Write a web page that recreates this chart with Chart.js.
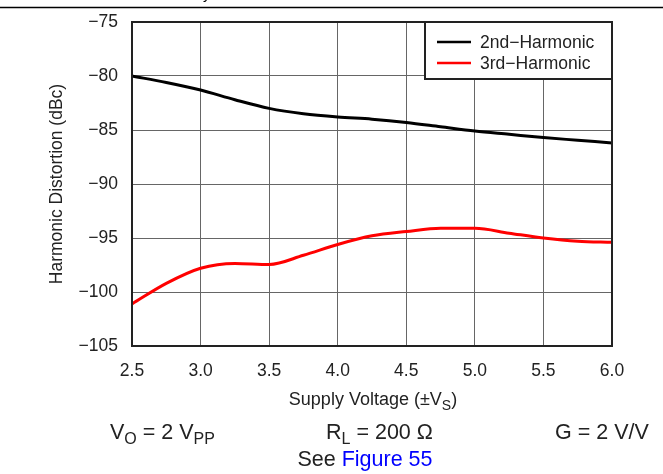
<!DOCTYPE html>
<html>
<head>
<meta charset="utf-8">
<script src="https://cdn.jsdelivr.net/npm/chart.js@4/dist/chart.umd.min.js"></script>
<style>
  html, body { margin: 0; padding: 0; background: #fff; }
  #wrap { width: 663px; height: 474px; position: relative; }
</style>
</head>
<body>
<div id="wrap"><canvas id="hdChart" width="663" height="474"></canvas></div>
<script>
// supply voltage (±Vs) sample points
const supplyVoltage = [2.5, 2.75, 3.0, 3.25, 3.5, 3.75, 4.0, 4.25, 4.5, 4.75, 5.0, 5.25, 5.5, 5.75, 6.0];
// distortion values (dBc)
const secondHarmonic = [-80.0, -80.6, -81.3, -82.2, -83.0, -83.5, -83.8, -84.0, -84.3, -84.7, -85.1, -85.4, -85.7, -85.95, -86.2];
const thirdHarmonic = [-101.1, -99.2, -97.8, -97.35, -97.45, -96.6, -95.6, -94.8, -94.4, -94.1, -94.1, -94.55, -95.0, -95.3, -95.4];
const seriesNames = ["2nd\u2212Harmonic", "3rd\u2212Harmonic"];
const seriesColors = ["#000000", "#ff0000"];
const xTicks = [2.5, 3.0, 3.5, 4.0, 4.5, 5.0, 5.5, 6.0];
const yTicks = [-105, -100, -95, -90, -85, -80, -75];

const FONT = "'Liberation Sans', Arial, sans-serif";

function toPoints(ys) {
    return supplyVoltage.map((x, i) => ({ x: x, y: ys[i] }));
}

// draws frame, legend box, axis titles and the conditions text
const decorations = {
    id: "decorations",
    afterDraw(chart) {
        const ctx = chart.ctx;
        const a = chart.chartArea;
        ctx.save();

        // header rule and clipped text above it
        ctx.fillStyle = "#000";
        ctx.font = "15px " + FONT;
        ctx.textBaseline = "alphabetic";
        ctx.fillText("y", 203, -1);
        ctx.strokeStyle = "#000";
        ctx.lineWidth = 1.5;
        ctx.beginPath();
        ctx.moveTo(0, 7.5);
        ctx.lineTo(663, 7.5);
        ctx.stroke();

        // plot frame
        ctx.strokeStyle = "#222";
        ctx.lineWidth = 2;
        ctx.strokeRect(a.left, a.top, a.right - a.left, a.bottom - a.top);

        // legend
        const lx = 425, ly = a.top, lw = a.right - 425, lh = 57;
        ctx.fillStyle = "#fff";
        ctx.fillRect(lx, ly, lw, lh);
        ctx.strokeStyle = "#222";
        ctx.lineWidth = 2;
        ctx.strokeRect(lx, ly, lw, lh);
        ctx.font = "17.5px " + FONT;
        ctx.textBaseline = "middle";
        chart.data.datasets.forEach((ds, i) => {
            const yy = ly + 20 + i * 21;
            ctx.strokeStyle = ds.borderColor;
            ctx.lineWidth = 2.5;
            ctx.beginPath();
            ctx.moveTo(437, yy);
            ctx.lineTo(471, yy);
            ctx.stroke();
            ctx.fillStyle = "#222";
            ctx.textAlign = "left";
            ctx.fillText(ds.label, 480, yy + 1);
        });

        // y axis title
        ctx.save();
        ctx.translate(57, (a.top + a.bottom) / 2);
        ctx.rotate(-Math.PI / 2);
        ctx.textAlign = "center";
        ctx.textBaseline = "middle";
        ctx.fillStyle = "#222";
        ctx.font = "17.5px " + FONT;
        ctx.fillText("Harmonic Distortion (dBc)", 0, 0);
        ctx.restore();

        // text with subscripts, drawn left to right
        function rich(parts, x, y, align, size) {
            const sub = Math.round(size * 0.75);
            let total = 0;
            parts.forEach(p => {
                ctx.font = (p.sub ? sub : size) + "px " + FONT;
                total += ctx.measureText(p.t).width;
            });
            let cx = align === "center" ? x - total / 2 : x;
            ctx.textAlign = "left";
            ctx.textBaseline = "alphabetic";
            parts.forEach(p => {
                ctx.font = (p.sub ? sub : size) + "px " + FONT;
                ctx.fillStyle = p.color || "#222";
                ctx.fillText(p.t, cx, p.sub ? y + 5 : y);
                cx += ctx.measureText(p.t).width;
            });
        }

        rich([{ t: "Supply Voltage (\u00b1V" }, { t: "S", sub: true }, { t: ")" }], 373, 405, "center", 18);
        rich([{ t: "V" }, { t: "O", sub: true }, { t: " = 2 V" }, { t: "PP", sub: true }], 110, 439, "left", 21.5);
        rich([{ t: "R" }, { t: "L", sub: true }, { t: " = 200 \u03a9" }], 326, 439, "left", 21.5);
        rich([{ t: "G = 2 V/V" }], 555, 439, "left", 21.5);
        rich([{ t: "See " }, { t: "Figure 55", color: "#0000ff" }], 365, 466, "center", 21.5);

        ctx.restore();
    }
};

new Chart(document.getElementById("hdChart").getContext("2d"), {
    type: "line",
    data: {
        datasets: [
            { label: seriesNames[0], data: toPoints(secondHarmonic), borderColor: seriesColors[0] },
            { label: seriesNames[1], data: toPoints(thirdHarmonic), borderColor: seriesColors[1] }
        ].map(ds => Object.assign(ds, {
            borderWidth: 3,
            pointRadius: 0,
            fill: false,
            cubicInterpolationMode: "monotone"
        }))
    },
    options: {
        responsive: false,
        animation: false,
        layout: { padding: { left: 0, top: 22, right: 51, bottom: 0 } },
        plugins: { legend: { display: false }, tooltip: { enabled: false } },
        scales: {
            x: {
                type: "linear",
                min: 2.5,
                max: 6.0,
                afterBuildTicks: s => { s.ticks = xTicks.map(v => ({ value: v })); },
                afterFit: s => { s.height = 128; s.paddingLeft = 0; s.paddingRight = 0; },
                ticks: {
                    color: "#222",
                    font: { family: FONT, size: 17.5 },
                    padding: 15,
                    maxRotation: 0,
                    callback: v => v.toFixed(1)
                },
                grid: { color: "#666", lineWidth: 1, drawTicks: false },
                border: { display: false }
            },
            y: {
                min: -105,
                max: -75,
                afterBuildTicks: s => { s.ticks = yTicks.map(v => ({ value: v })); },
                afterFit: s => { s.width = 132; s.paddingTop = 0; s.paddingBottom = 0; },
                ticks: {
                    color: "#222",
                    font: { family: FONT, size: 17.5 },
                    padding: 14,
                    callback: v => String(v).replace("-", "\u2212")
                },
                grid: { color: "#666", lineWidth: 1, drawTicks: false },
                border: { display: false }
            }
        }
    },
    plugins: [decorations]
});
</script>
</body>
</html>
